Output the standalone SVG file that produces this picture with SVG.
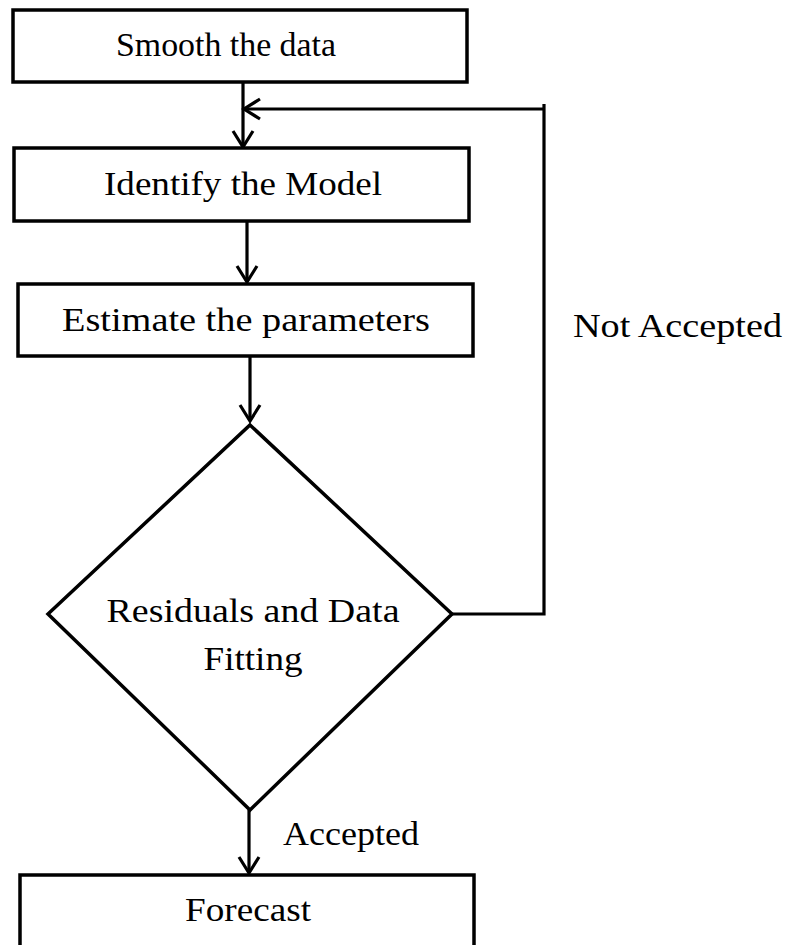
<svg xmlns="http://www.w3.org/2000/svg" width="786" height="945" viewBox="0 0 786 945">
<defs>
<style>
.box{fill:#fff;stroke:#000;stroke-width:3.5}
.ln{fill:none;stroke:#000;stroke-width:3.2}
.t{font-family:"Liberation Serif","Times New Roman",serif;font-size:34px;fill:#000}
.c{text-anchor:middle}
</style>
<marker id="ah" viewBox="0 0 24 24" refX="21" refY="12" markerWidth="24" markerHeight="24" markerUnits="userSpaceOnUse" orient="auto">
<path d="M5,2 L21,12 L5,22" fill="none" stroke="#000" stroke-width="3.2"/>
</marker>
</defs>
<rect width="786" height="945" fill="#fff"/>
<g id="connectors">
<line class="ln" x1="243" y1="83" x2="243" y2="147" marker-end="url(#ah)"/>
<polyline class="ln" points="452,614 544,614 544,104"/>
<line class="ln" x1="544" y1="109" x2="244" y2="109" marker-end="url(#ah)"/>
<line class="ln" x1="247" y1="222" x2="247" y2="282" marker-end="url(#ah)"/>
<line class="ln" x1="250" y1="357" x2="250" y2="421" marker-end="url(#ah)"/>
<line class="ln" x1="249" y1="810" x2="249" y2="873" marker-end="url(#ah)"/>
<text class="t" x="573" y="337" textLength="209" lengthAdjust="spacingAndGlyphs">Not Accepted</text>
<text class="t" x="283" y="845" textLength="136" lengthAdjust="spacingAndGlyphs">Accepted</text>
</g>
<g id="smooth">
<rect class="box" x="13" y="10" width="454" height="72"/>
<text class="t c" x="226" y="56" textLength="220" lengthAdjust="spacingAndGlyphs">Smooth the data</text>
</g>
<g id="identify">
<rect class="box" x="14" y="148" width="455" height="73"/>
<text class="t c" x="243" y="195" textLength="278" lengthAdjust="spacingAndGlyphs">Identify the Model</text>
</g>
<g id="estimate">
<rect class="box" x="18" y="284" width="455" height="72"/>
<text class="t c" x="246" y="331" textLength="368" lengthAdjust="spacingAndGlyphs">Estimate the parameters</text>
</g>
<g id="residuals">
<polygon class="box" points="250,425 452,614 250,810 48,614"/>
<text class="t c" x="253" y="622" textLength="293" lengthAdjust="spacingAndGlyphs">Residuals and Data</text>
<text class="t c" x="253" y="670" textLength="99" lengthAdjust="spacingAndGlyphs">Fitting</text>
</g>
<g id="forecast">
<rect class="box" x="20" y="875" width="454" height="90"/>
<text class="t c" x="248" y="921" textLength="126" lengthAdjust="spacingAndGlyphs">Forecast</text>
</g>
</svg>
